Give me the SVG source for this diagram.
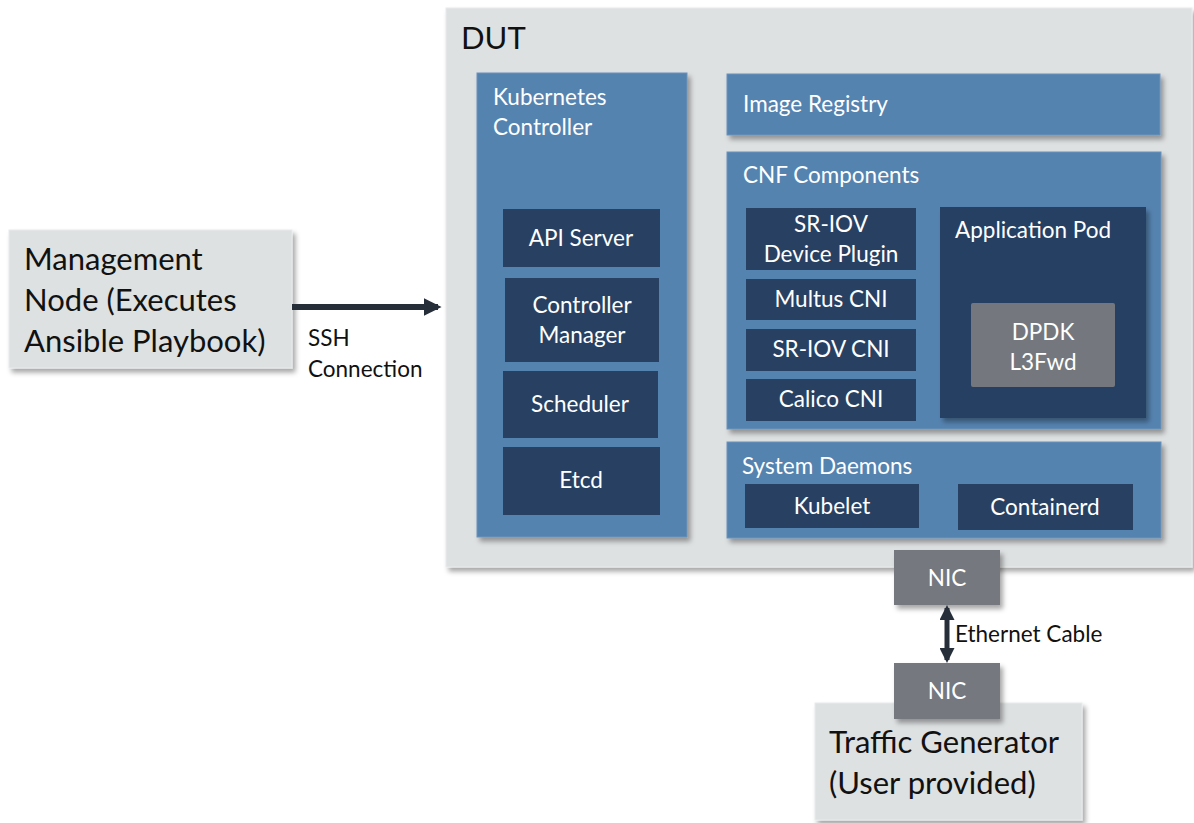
<svg xmlns="http://www.w3.org/2000/svg" width="1194" height="823" viewBox="0 0 1194 823">
<defs>
<filter id="sh" x="-10%" y="-10%" width="130%" height="130%">
<feDropShadow dx="3" dy="4" stdDeviation="2.5" flood-color="#000" flood-opacity="0.35"/>
</filter>
<marker id="ah" viewBox="0 0 10 10" refX="8" refY="5" markerWidth="3" markerHeight="3" orient="auto-start-reverse" markerUnits="strokeWidth">
<path d="M0,0 L10,5 L0,10 z" fill="#262e3a"/>
</marker>
</defs>
<style>
text{font-family:Lato,"Open Sans","Liberation Sans",sans-serif;}
.gray{fill:#dee1e2;stroke:#e8eaeb;stroke-width:1;}
.blue{fill:#5583b0;stroke:#6a92bb;stroke-width:1;}
.dark{fill:#284163;}
.nic{fill:#74787e;}
.wt{fill:#ffffff;font-size:22.5px;}
.wc{fill:#ffffff;font-size:22.5px;text-anchor:middle;}
.bk{fill:#111111;font-size:31px;}
.lbl{fill:#111111;font-size:22.5px;}
.conn{stroke:#262e3a;fill:none;}
</style>
<rect width="1194" height="823" fill="#ffffff"/>

<g id="dut">
<rect class="gray" x="446" y="8" width="746" height="559" filter="url(#sh)"/>
<text class="bk" x="461" y="49">DUT</text>
</g>

<g id="k8s-controller">
<rect class="blue" x="477" y="73" width="210" height="464" filter="url(#sh)"/>
<text class="wt" x="493" y="105">Kubernetes</text>
<text class="wt" x="493" y="135">Controller</text>
</g>
<g id="api-server">
<rect class="dark" x="503" y="209" width="157" height="58"/>
<text class="wc" x="581" y="246">API Server</text>
</g>
<g id="controller-manager">
<rect class="dark" x="505" y="278" width="154" height="84"/>
<text class="wc" x="582" y="313">Controller</text>
<text class="wc" x="582" y="343">Manager</text>
</g>
<g id="scheduler">
<rect class="dark" x="503" y="371" width="155" height="67"/>
<text class="wc" x="580" y="412">Scheduler</text>
</g>
<g id="etcd">
<rect class="dark" x="503" y="447" width="157" height="68"/>
<text class="wc" x="581" y="488">Etcd</text>
</g>

<g id="image-registry">
<rect class="blue" x="727" y="74" width="433" height="61" filter="url(#sh)"/>
<text class="wt" x="743" y="112">Image Registry</text>
</g>

<g id="cnf-components">
<rect class="blue" x="727" y="152" width="434" height="277" filter="url(#sh)"/>
<text class="wt" x="743" y="183">CNF Components</text>
</g>
<g id="sriov-device-plugin">
<rect class="dark" x="746" y="208" width="170" height="62"/>
<text class="wc" x="831" y="232">SR-IOV</text>
<text class="wc" x="831" y="262">Device Plugin</text>
</g>
<g id="multus-cni">
<rect class="dark" x="746" y="279" width="170" height="41"/>
<text class="wc" x="831" y="307">Multus CNI</text>
</g>
<g id="sriov-cni">
<rect class="dark" x="746" y="329" width="170" height="42"/>
<text class="wc" x="831" y="357">SR-IOV CNI</text>
</g>
<g id="calico-cni">
<rect class="dark" x="746" y="379" width="170" height="42"/>
<text class="wc" x="831" y="407">Calico CNI</text>
</g>
<g id="application-pod">
<rect class="dark" x="940" y="207" width="206" height="211" filter="url(#sh)"/>
<text class="wt" x="955" y="238">Application Pod</text>
</g>
<g id="dpdk-l3fwd">
<rect class="nic" x="971" y="303" width="144" height="84" rx="2"/>
<text class="wc" x="1043" y="340">DPDK</text>
<text class="wc" x="1043" y="370">L3Fwd</text>
</g>

<g id="system-daemons">
<rect class="blue" x="727" y="442" width="434" height="96" filter="url(#sh)"/>
<text class="wt" x="742" y="474">System Daemons</text>
</g>
<g id="kubelet">
<rect class="dark" x="745" y="484" width="174" height="44"/>
<text class="wc" x="832" y="514">Kubelet</text>
</g>
<g id="containerd">
<rect class="dark" x="958" y="484" width="175" height="46"/>
<text class="wc" x="1045" y="515">Containerd</text>
</g>

<g id="nic-dut">
<rect class="nic" x="894" y="550" width="106" height="55" filter="url(#sh)"/>
<text class="wc" x="947" y="586">NIC</text>
</g>

<g id="management-node">
<rect class="gray" x="9" y="230" width="283" height="138" filter="url(#sh)"/>
<text class="bk" x="24" y="270">Management</text>
<text class="bk" x="24" y="311">Node (Executes</text>
<text class="bk" x="24" y="352">Ansible Playbook)</text>
</g>

<g id="traffic-generator">
<rect class="gray" x="815" y="703" width="267" height="117" filter="url(#sh)"/>
<text class="bk" x="829" y="753">Traffic Generator</text>
<text class="bk" x="829" y="794">(User provided)</text>
</g>
<g id="nic-tg">
<rect class="nic" x="894" y="663" width="106" height="56" filter="url(#sh)"/>
<text class="wc" x="947" y="699">NIC</text>
</g>

<g id="connectors">
<line class="conn" x1="292" y1="307" x2="438" y2="307" stroke-width="6" marker-end="url(#ah)"/>
<line class="conn" x1="947" y1="608" x2="947" y2="660" stroke-width="5" marker-start="url(#ah)" marker-end="url(#ah)"/>
<text class="lbl" x="308" y="346">SSH</text>
<text class="lbl" x="308" y="377">Connection</text>
<text class="lbl" x="955" y="642">Ethernet Cable</text>
</g>
</svg>
